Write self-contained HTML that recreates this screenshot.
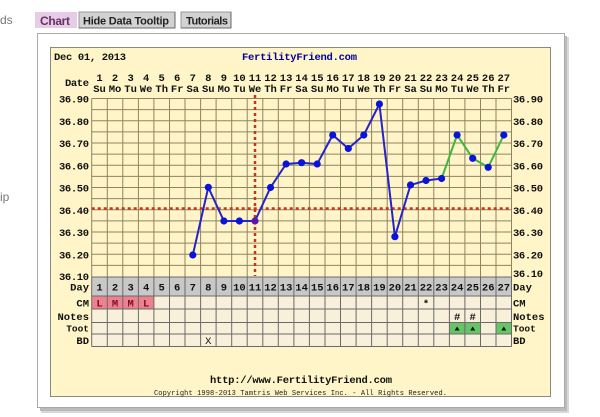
<!DOCTYPE html>
<html><head><meta charset="utf-8">
<style>
html,body{margin:0;padding:0;background:#fff;width:600px;height:417px;overflow:hidden}
svg{display:block}
.m{font-family:"Liberation Mono",monospace;font-weight:bold;font-size:10.5px;fill:#111}
.s{font-family:"Liberation Sans",sans-serif}
</style></head><body>
<svg width="600" height="417" viewBox="0 0 600 417" xmlns="http://www.w3.org/2000/svg">
<text x="0" y="24" class="s" font-size="12" fill="#777">ds</text>
<text x="0" y="201" class="s" font-size="12" fill="#777">ip</text>
<rect x="35" y="12" width="42" height="16" fill="#E6CCE6"/>
<text x="40" y="25" class="s" font-size="12" font-weight="bold" fill="#663366" textLength="30">Chart</text>
<rect x="79" y="12" width="96" height="16" fill="#D2D2D2" stroke="#999"/>
<line x1="79" y1="28" x2="175" y2="28" stroke="#666"/><line x1="175" y1="12" x2="175" y2="28" stroke="#666"/>
<text x="83" y="24.5" class="s" font-size="11" font-weight="bold" fill="#222" textLength="86">Hide Data Tooltip</text>
<rect x="181" y="12" width="50" height="16" fill="#D2D2D2" stroke="#999"/>
<line x1="181" y1="28" x2="231" y2="28" stroke="#666"/><line x1="231" y1="12" x2="231" y2="28" stroke="#666"/>
<text x="186" y="24.5" class="s" font-size="11" font-weight="bold" fill="#222" textLength="42">Tutorials</text>
<rect x="41" y="37" width="528" height="376" fill="#d8d8d8"/>
<rect x="40" y="36" width="527" height="375" fill="#bbb"/>
<rect x="37.5" y="33.5" width="527" height="374" fill="#fff" stroke="#aaa"/>
<rect x="50.5" y="47.5" width="500" height="349" fill="#FFF5C8" stroke="#8a8a78"/>
<text x="54" y="60" class="m" textLength="72">Dec 01, 2013</text>
<text x="242" y="60" class="m" style="fill:#000099" textLength="115">FertilityFriend.com</text>
<text x="89" y="86" class="m" text-anchor="end" textLength="24">Date</text>
<g class="m" text-anchor="middle">
<text x="99.5" y="81">1</text><text x="115" y="81">2</text><text x="130.6" y="81">3</text><text x="146.1" y="81">4</text><text x="161.7" y="81">5</text><text x="177.2" y="81">6</text><text x="192.8" y="81">7</text><text x="208.3" y="81">8</text><text x="223.9" y="81">9</text><text x="239.4" y="81">10</text><text x="255" y="81">11</text><text x="270.5" y="81">12</text><text x="286.1" y="81">13</text><text x="301.6" y="81">14</text><text x="317.2" y="81">15</text><text x="332.7" y="81">16</text><text x="348.3" y="81">17</text><text x="363.8" y="81">18</text><text x="379.4" y="81">19</text><text x="394.9" y="81">20</text><text x="410.5" y="81">21</text><text x="426" y="81">22</text><text x="441.6" y="81">23</text><text x="457.1" y="81">24</text><text x="472.7" y="81">25</text><text x="488.2" y="81">26</text><text x="503.8" y="81">27</text>
</g>
<g class="m" text-anchor="middle" font-size="10">
<text x="99.5" y="92">Su</text><text x="115" y="92">Mo</text><text x="130.6" y="92">Tu</text><text x="146.1" y="92">We</text><text x="161.7" y="92">Th</text><text x="177.2" y="92">Fr</text><text x="192.8" y="92">Sa</text><text x="208.3" y="92">Su</text><text x="223.9" y="92">Mo</text><text x="239.4" y="92">Tu</text><text x="255" y="92">We</text><text x="270.5" y="92">Th</text><text x="286.1" y="92">Fr</text><text x="301.6" y="92">Sa</text><text x="317.2" y="92">Su</text><text x="332.7" y="92">Mo</text><text x="348.3" y="92">Tu</text><text x="363.8" y="92">We</text><text x="379.4" y="92">Th</text><text x="394.9" y="92">Fr</text><text x="410.5" y="92">Sa</text><text x="426" y="92">Su</text><text x="441.6" y="92">Mo</text><text x="457.1" y="92">Tu</text><text x="472.7" y="92">We</text><text x="488.2" y="92">Th</text><text x="503.8" y="92">Fr</text>
</g>
<g class="m" text-anchor="end">
<text x="89" y="102.5" textLength="30">36.90</text><text x="89" y="124.8" textLength="30">36.80</text><text x="89" y="147" textLength="30">36.70</text><text x="89" y="169.3" textLength="30">36.60</text><text x="89" y="191.5" textLength="30">36.50</text><text x="89" y="213.8" textLength="30">36.40</text><text x="89" y="236" textLength="30">36.30</text><text x="89" y="258.3" textLength="30">36.20</text><text x="89" y="280" textLength="30">36.10</text>
</g>
<g class="m">
<text x="513" y="102.5" textLength="30">36.90</text><text x="513" y="124.8" textLength="30">36.80</text><text x="513" y="147" textLength="30">36.70</text><text x="513" y="169.3" textLength="30">36.60</text><text x="513" y="191.5" textLength="30">36.50</text><text x="513" y="213.8" textLength="30">36.40</text><text x="513" y="236" textLength="30">36.30</text><text x="513" y="258.3" textLength="30">36.20</text><text x="513" y="277" textLength="30">36.10</text>
</g>
<g stroke="#8f8462" stroke-width="1">
<line x1="91.7" y1="98.5" x2="511.5" y2="98.5"/><line x1="91.7" y1="109.6" x2="511.5" y2="109.6"/><line x1="91.7" y1="120.8" x2="511.5" y2="120.8"/><line x1="91.7" y1="131.9" x2="511.5" y2="131.9"/><line x1="91.7" y1="143" x2="511.5" y2="143"/><line x1="91.7" y1="154.1" x2="511.5" y2="154.1"/><line x1="91.7" y1="165.3" x2="511.5" y2="165.3"/><line x1="91.7" y1="176.4" x2="511.5" y2="176.4"/><line x1="91.7" y1="187.5" x2="511.5" y2="187.5"/><line x1="91.7" y1="198.6" x2="511.5" y2="198.6"/><line x1="91.7" y1="209.8" x2="511.5" y2="209.8"/><line x1="91.7" y1="220.9" x2="511.5" y2="220.9"/><line x1="91.7" y1="232" x2="511.5" y2="232"/><line x1="91.7" y1="243.1" x2="511.5" y2="243.1"/><line x1="91.7" y1="254.3" x2="511.5" y2="254.3"/><line x1="91.7" y1="265.4" x2="511.5" y2="265.4"/>
<line x1="91.7" y1="98.5" x2="91.7" y2="277"/><line x1="107.3" y1="98.5" x2="107.3" y2="277"/><line x1="122.8" y1="98.5" x2="122.8" y2="277"/><line x1="138.4" y1="98.5" x2="138.4" y2="277"/><line x1="153.9" y1="98.5" x2="153.9" y2="277"/><line x1="169.5" y1="98.5" x2="169.5" y2="277"/><line x1="185" y1="98.5" x2="185" y2="277"/><line x1="200.6" y1="98.5" x2="200.6" y2="277"/><line x1="216.1" y1="98.5" x2="216.1" y2="277"/><line x1="231.7" y1="98.5" x2="231.7" y2="277"/><line x1="247.2" y1="98.5" x2="247.2" y2="277"/><line x1="262.8" y1="98.5" x2="262.8" y2="277"/><line x1="278.3" y1="98.5" x2="278.3" y2="277"/><line x1="293.9" y1="98.5" x2="293.9" y2="277"/><line x1="309.4" y1="98.5" x2="309.4" y2="277"/><line x1="325" y1="98.5" x2="325" y2="277"/><line x1="340.5" y1="98.5" x2="340.5" y2="277"/><line x1="356.1" y1="98.5" x2="356.1" y2="277"/><line x1="371.6" y1="98.5" x2="371.6" y2="277"/><line x1="387.2" y1="98.5" x2="387.2" y2="277"/><line x1="402.7" y1="98.5" x2="402.7" y2="277"/><line x1="418.3" y1="98.5" x2="418.3" y2="277"/><line x1="433.8" y1="98.5" x2="433.8" y2="277"/><line x1="449.4" y1="98.5" x2="449.4" y2="277"/><line x1="464.9" y1="98.5" x2="464.9" y2="277"/><line x1="480.5" y1="98.5" x2="480.5" y2="277"/><line x1="496" y1="98.5" x2="496" y2="277"/><line x1="511.5" y1="98.5" x2="511.5" y2="277"/>
</g>
<line x1="91.7" y1="208.5" x2="511.5" y2="208.5" stroke="#C8341A" stroke-width="2.5" stroke-dasharray="3,3"/>
<line x1="255" y1="95" x2="255" y2="276" stroke="#C8341A" stroke-width="2.5" stroke-dasharray="3,3"/>
<polyline fill="none" stroke="#2424C8" stroke-width="2" points="192.8,255 208.3,187.3 223.9,221 239.4,221 255,221 270.5,187.5 286.1,164 301.6,162.7 317.2,164 332.7,135 348.3,148.5 363.8,135 379.4,104 394.9,236.7 410.5,185 426,180.5 441.6,178.5"/>
<polyline fill="none" stroke="#3CB83C" stroke-width="2" points="441.6,178.5 457.1,135 472.7,158.3 488.2,167.3 503.8,135"/>
<g fill="#0A14D8">
<circle cx="192.8" cy="255" r="3.6"/><circle cx="208.3" cy="187.3" r="3.6"/><circle cx="223.9" cy="221" r="3.6"/><circle cx="239.4" cy="221" r="3.6"/><circle cx="255" cy="221" r="3.6" fill="#5A1AA8"/><circle cx="270.5" cy="187.5" r="3.6"/><circle cx="286.1" cy="164" r="3.6"/><circle cx="301.6" cy="162.7" r="3.6"/><circle cx="317.2" cy="164" r="3.6"/><circle cx="332.7" cy="135" r="3.6"/><circle cx="348.3" cy="148.5" r="3.6"/><circle cx="363.8" cy="135" r="3.6"/><circle cx="379.4" cy="104" r="3.6"/><circle cx="394.9" cy="236.7" r="3.6"/><circle cx="410.5" cy="185" r="3.6"/><circle cx="426" cy="180.5" r="3.6"/><circle cx="441.6" cy="178.5" r="3.6"/><circle cx="457.1" cy="135" r="3.6"/><circle cx="472.7" cy="158.3" r="3.6"/><circle cx="488.2" cy="167.3" r="3.6"/><circle cx="503.8" cy="135" r="3.6"/>
</g>
<rect x="91.7" y="277" width="419.8" height="19" fill="#C8C8C8"/>
<rect x="91.7" y="296" width="419.8" height="50.5" fill="#F8F0DA"/>
<rect x="91.7" y="296" width="62.2" height="13" fill="#EE8090"/>
<rect x="449.4" y="322.5" width="31.1" height="11.5" fill="#66C466"/>
<rect x="496" y="322.5" width="15.5" height="11.5" fill="#66C466"/>
<g stroke="#6a6a6a" stroke-width="1">
<line x1="91.7" y1="277" x2="511.5" y2="277"/><line x1="91.7" y1="296" x2="511.5" y2="296"/><line x1="91.7" y1="309" x2="511.5" y2="309"/><line x1="91.7" y1="322.5" x2="511.5" y2="322.5"/><line x1="91.7" y1="334" x2="511.5" y2="334"/><line x1="91.7" y1="346.5" x2="511.5" y2="346.5"/>
<line x1="91.7" y1="277" x2="91.7" y2="346.5"/><line x1="107.3" y1="277" x2="107.3" y2="346.5"/><line x1="122.8" y1="277" x2="122.8" y2="346.5"/><line x1="138.4" y1="277" x2="138.4" y2="346.5"/><line x1="153.9" y1="277" x2="153.9" y2="346.5"/><line x1="169.5" y1="277" x2="169.5" y2="346.5"/><line x1="185" y1="277" x2="185" y2="346.5"/><line x1="200.6" y1="277" x2="200.6" y2="346.5"/><line x1="216.1" y1="277" x2="216.1" y2="346.5"/><line x1="231.7" y1="277" x2="231.7" y2="346.5"/><line x1="247.2" y1="277" x2="247.2" y2="346.5"/><line x1="262.8" y1="277" x2="262.8" y2="346.5"/><line x1="278.3" y1="277" x2="278.3" y2="346.5"/><line x1="293.9" y1="277" x2="293.9" y2="346.5"/><line x1="309.4" y1="277" x2="309.4" y2="346.5"/><line x1="325" y1="277" x2="325" y2="346.5"/><line x1="340.5" y1="277" x2="340.5" y2="346.5"/><line x1="356.1" y1="277" x2="356.1" y2="346.5"/><line x1="371.6" y1="277" x2="371.6" y2="346.5"/><line x1="387.2" y1="277" x2="387.2" y2="346.5"/><line x1="402.7" y1="277" x2="402.7" y2="346.5"/><line x1="418.3" y1="277" x2="418.3" y2="346.5"/><line x1="433.8" y1="277" x2="433.8" y2="346.5"/><line x1="449.4" y1="277" x2="449.4" y2="346.5"/><line x1="464.9" y1="277" x2="464.9" y2="346.5"/><line x1="480.5" y1="277" x2="480.5" y2="346.5"/><line x1="496" y1="277" x2="496" y2="346.5"/><line x1="511.5" y1="277" x2="511.5" y2="346.5"/>
</g>
<g class="m" text-anchor="middle">
<text x="99.5" y="290.5">1</text><text x="115" y="290.5">2</text><text x="130.6" y="290.5">3</text><text x="146.1" y="290.5">4</text><text x="161.7" y="290.5">5</text><text x="177.2" y="290.5">6</text><text x="192.8" y="290.5">7</text><text x="208.3" y="290.5">8</text><text x="223.9" y="290.5">9</text><text x="239.4" y="290.5">10</text><text x="255" y="290.5">11</text><text x="270.5" y="290.5">12</text><text x="286.1" y="290.5">13</text><text x="301.6" y="290.5">14</text><text x="317.2" y="290.5">15</text><text x="332.7" y="290.5">16</text><text x="348.3" y="290.5">17</text><text x="363.8" y="290.5">18</text><text x="379.4" y="290.5">19</text><text x="394.9" y="290.5">20</text><text x="410.5" y="290.5">21</text><text x="426" y="290.5">22</text><text x="441.6" y="290.5">23</text><text x="457.1" y="290.5">24</text><text x="472.7" y="290.5">25</text><text x="488.2" y="290.5">26</text><text x="503.8" y="290.5">27</text>
<text x="99.5" y="306.5" style="fill:#7a1020">L</text><text x="115" y="306.5" style="fill:#7a1020">M</text><text x="130.6" y="306.5" style="fill:#7a1020">M</text><text x="146.1" y="306.5" style="fill:#7a1020">L</text>
<text x="426" y="307">*</text>
<text x="457.1" y="320">#</text><text x="472.7" y="320">#</text>
<text x="208.3" y="344" font-weight="normal">X</text>
</g>
<g fill="#111">
<polygon points="454.6,330.5 459.6,330.5 457.1,326.5"/><polygon points="470.2,330.5 475.2,330.5 472.7,326.5"/><polygon points="501.3,330.5 506.3,330.5 503.8,326.5"/>
</g>
<g class="m" text-anchor="end">
<text x="89" y="290.5">Day</text><text x="89" y="306.5">CM</text><text x="89" y="320">Notes</text><text x="89" y="331.5" font-size="9.5">Toot</text><text x="89" y="344">BD</text>
</g>
<g class="m">
<text x="513" y="290.5">Day</text><text x="513" y="306.5">CM</text><text x="513" y="320">Notes</text><text x="513" y="331.5" font-size="9.5">Toot</text><text x="513" y="344">BD</text>
</g>
<text x="210" y="383" class="m" textLength="182">http://www.FertilityFriend.com</text>
<text x="154" y="395" font-family="Liberation Mono, monospace" font-size="7" fill="#222" textLength="293">Copyright 1998-2013 Tamtris Web Services Inc. - All Rights Reserved.</text>
</svg>
</body></html>
